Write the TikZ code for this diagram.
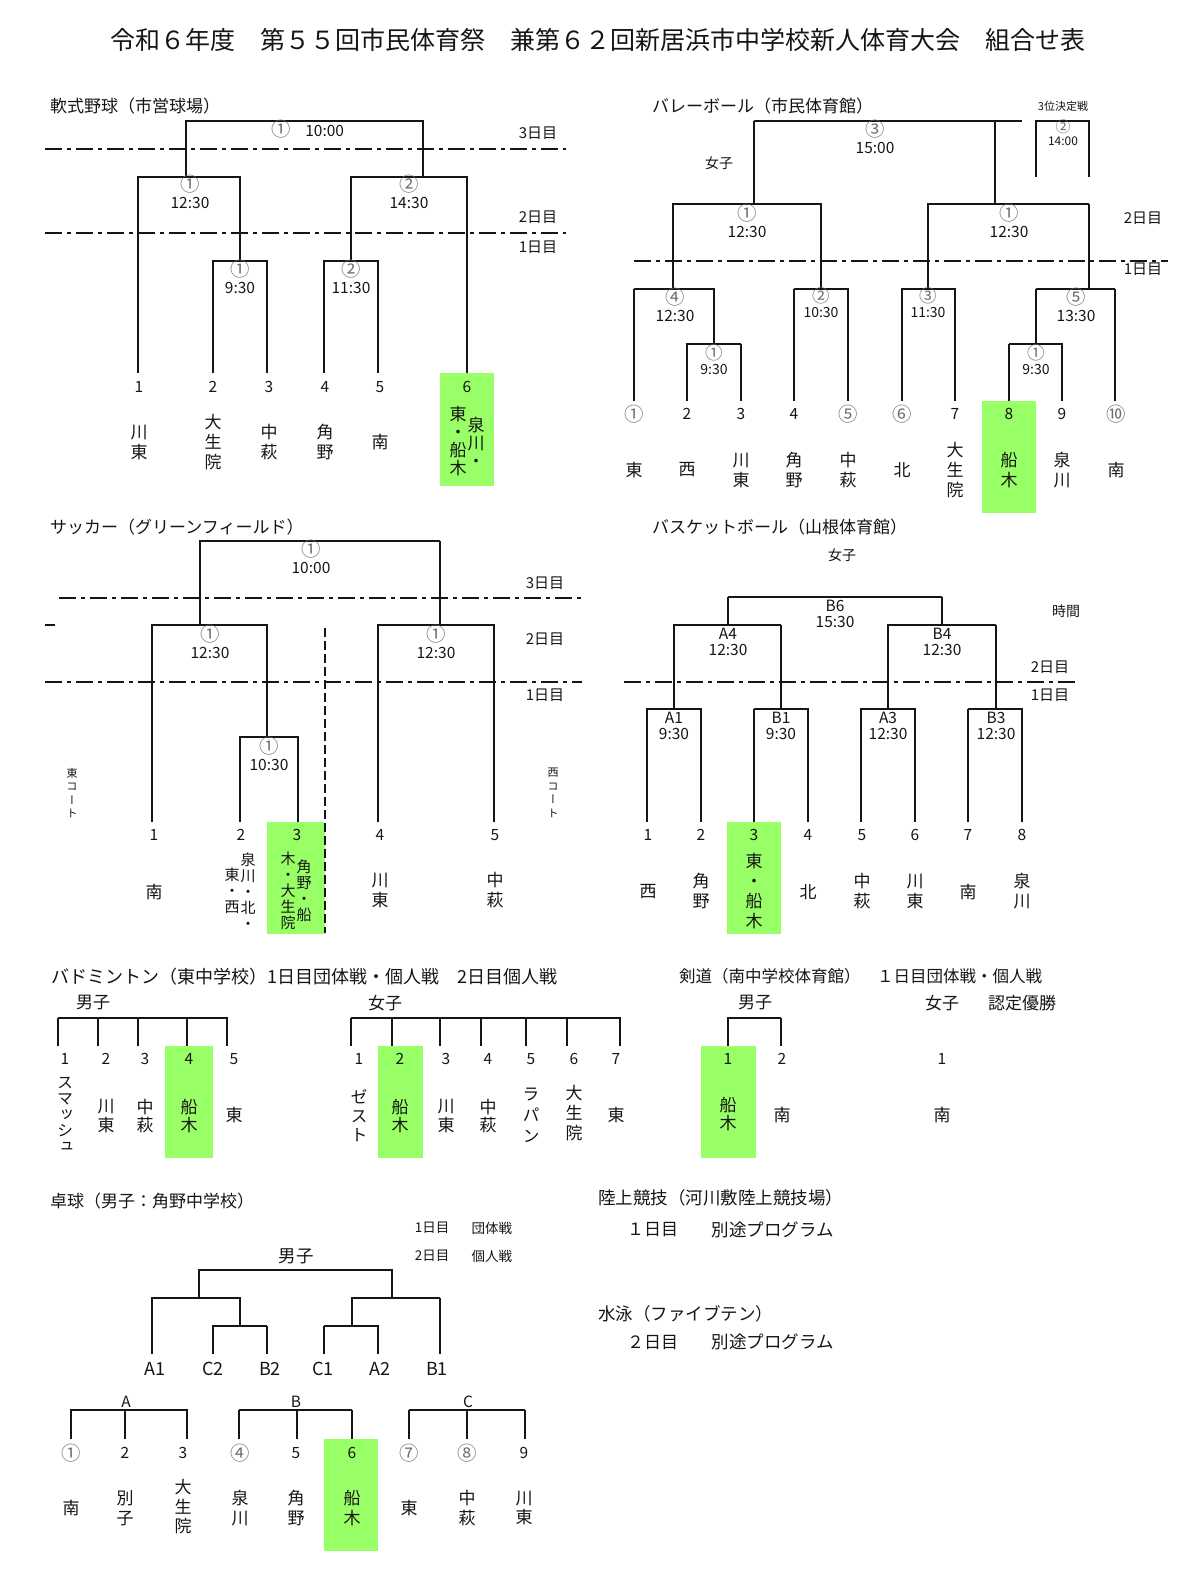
\documentclass[tikz,border=0pt]{standalone}
\usepackage{fontspec}
\setmainfont{Noto Sans CJK JP}
\newfontfamily\tatefont[RawFeature=+vert]{Noto Sans CJK JP}
\usepackage{xcolor}
\usepackage{tikz}
\usetikzlibrary{positioning}
\definecolor{HitGreen}{HTML}{99FF66}
\definecolor{CircGray}{HTML}{6E6E6E}
\definecolor{InkBlack}{HTML}{151515}
\newcommand\circn[1]{{\color{CircGray}\scalebox{1.25}{#1}}}

\begin{document}
\begin{tikzpicture}[x=1pt,y=-1pt]
  \tikzset{ln/.style={InkBlack,line width=1.5pt},
    win/.style={InkBlack,line width=2.8pt},
    daysep/.style={InkBlack,line width=1.7pt,dash pattern=on 17pt off 5pt on 4pt off 5pt},
    hit/.style={fill=HitGreen,draw=none},
    txt/.style={inner sep=0pt,text=InkBlack,font=\fontsize{15}{17}\selectfont},
    head/.style={txt,anchor=west,font=\fontsize{17}{20}\selectfont},
    num/.style={txt,font=\fontsize{15.5}{17}\selectfont},
    day/.style={txt,font=\fontsize{15}{17}\selectfont},
    match/.style={txt,align=center,font=\fontsize{15.5}{16.5}\selectfont},
    smatch/.style={txt,align=center,font=\fontsize{14}{15}\selectfont},
    team/.style={txt,align=center,font=\tatefont\fontsize{17}{20}\selectfont},
    steam/.style={txt,align=center,font=\tatefont\fontsize{15}{16}\selectfont}}
  \useasboundingbox (0,0) rectangle (1200,1578);

  \node[txt,font=\fontsize{25}{30}\selectfont] (maintitle) at (598,40) {令和６年度　第５５回市民体育祭　兼第６２回新居浜市中学校新人体育大会　組合せ表};

  % soft baseball
  \node[head] (bbhead) at (50,106) {軟式野球（市営球場）};
  \draw[daysep] (45,149) -- (566,149);
  \draw[daysep] (45,233) -- (566,233);
  \node[day] (bbday3) at (538,133) {3日目};
  \node[day] (bbday2) at (538,217) {2日目};
  \node[day] (bbday1) at (538,247) {1日目};
  \fill[hit] (440,373) rectangle (494,486);
  \coordinate (bbt1) at (138,373);
  \coordinate (bbt2) at (213,373);
  \coordinate (bbt3) at (267,373);
  \coordinate (bbt4) at (324,373);
  \coordinate (bbt5) at (378,373);
  \coordinate (bbt6) at (467,373);
  \coordinate (bbq1) at (240,261);
  \coordinate (bbq2) at (351,261);
  \coordinate (bbq3) at (186,177);
  \coordinate (bbq4) at (423,177);
  \coordinate (bbq5) at (305,121);
  \draw[ln] (bbt2) |- (bbq1) -| (bbt3);
  \draw[win] (bbq1 -| bbt3) -- (bbt3);
  \draw[ln] (bbt4) |- (bbq2) -| (bbt5);
  \draw[win] (bbt4) -- (bbt4 |- bbq2);
  \draw[ln] (bbt1) |- (bbq3) -| (bbq1);
  \draw[win] (bbq1) -- (bbq1 |- bbq3);
  \draw[ln] (bbq2) |- (bbq4) -| (bbt6);
  \draw[win] (bbq2) -- (bbq2 |- bbq4);
  \draw[ln] (bbq3) |- (bbq5) -| (bbq4);
  \node[match] (bbm5) at (308,129) {\circn{①}\hspace{14pt}10:00};
  \node[match] (bbm3) at (190,192) {\circn{①}\\12:30};
  \node[match] (bbm4) at (409,192) {\circn{②}\\14:30};
  \node[match] (bbm1) at (240,277) {\circn{①}\\9:30};
  \node[match] (bbm2) at (351,277) {\circn{②}\\11:30};
  \node[num] (bbn1) at (139,387) {1};
  \node[num] (bbn2) at (213,387) {2};
  \node[num] (bbn3) at (269,387) {3};
  \node[num] (bbn4) at (325,387) {4};
  \node[num] (bbn5) at (380,387) {5};
  \node[num] (bbn6) at (467,387) {6};
  \node[team] (bbs1) at (139,442) {川\\東};
  \node[team] (bbs2) at (213,442) {大\\生\\院};
  \node[team] (bbs3) at (269,442) {中\\萩};
  \node[team] (bbs4) at (325,442) {角\\野};
  \node[team] (bbs5) at (380,442) {南};
  \node[team,font=\tatefont\fontsize{17}{18}\selectfont] (bbs6a) at (458,441) {東\\・\\船\\木};
  \node[team,font=\tatefont\fontsize{17}{18}\selectfont] (bbs6b) at (476,442) {泉\\川\\・};

  % volleyball
  \node[head] (vbhead) at (652,106) {バレーボール（市民体育館）};
  \node[txt,font=\fontsize{11}{12}\selectfont] (vbthird) at (1063,106) {3位決定戦};
  \node[txt,font=\fontsize{14}{16}\selectfont] (vbgirls) at (719,163) {女子};
  \draw[daysep] (634,261) -- (1168,261);
  \node[day] (vbday2) at (1143,218) {2日目};
  \node[day] (vbday1) at (1143,269) {1日目};
  \fill[hit] (982,401) rectangle (1036,513);
  \coordinate (vbt1) at (634,401);
  \coordinate (vbt2) at (687,401);
  \coordinate (vbt3) at (741,401);
  \coordinate (vbt4) at (794,401);
  \coordinate (vbt5) at (848,401);
  \coordinate (vbt6) at (902,401);
  \coordinate (vbt7) at (955,401);
  \coordinate (vbt8) at (1009,401);
  \coordinate (vbt9) at (1062,401);
  \coordinate (vbt10) at (1115,401);
  \coordinate (vbq1) at (714,344);
  \coordinate (vbq2) at (1036,344);
  \coordinate (vbq3) at (673,289);
  \coordinate (vbq4) at (821,289);
  \coordinate (vbq5) at (928,289);
  \coordinate (vbq6) at (1089,289);
  \coordinate (vbq7) at (754,204);
  \coordinate (vbq8) at (995,204);
  \coordinate (vbq9) at (875,121);
  \coordinate (vbend) at (1022,121);
  \coordinate (vbq10) at (1063,121);
  \coordinate (vb3a) at (1036,177);
  \coordinate (vb3b) at (1089,177);
  \draw[ln] (vbt1) -- (vbt1 |- vbq3);
  \draw[win] (vbt1 |- vbq3) -| (vbq1);
  \draw[win] (vbt2) |- (vbq1) -- (vbq1 -| vbt3);
  \draw[ln] (vbq1 -| vbt3) -- (vbt3);
  \draw[ln] (vbt4) -- (vbt4 |- vbq4);
  \draw[win] (vbt4 |- vbq4) -| (vbt5);
  \draw[win] (vbt6) |- (vbq5);
  \draw[ln] (vbq5) -| (vbt7);
  \draw[ln] (vbt8) -- (vbt8 |- vbq2);
  \draw[win] (vbt8 |- vbq2) -| (vbt9);
  \draw[ln] (vbq2) -- (vbq2 |- vbq6);
  \draw[win] (vbq2 |- vbq6) -- (vbq6 -| vbt10);
  \draw[ln] (vbq6 -| vbt10) -- (vbt10);
  \draw[ln] (vbq3) |- (vbq7) -| (vbq4);
  \draw[ln] (vbq5) |- (vbq8) -- (vbq8 -| vbq6);
  \draw[win] (vbq8 -| vbq6) -- (vbq6);
  \draw[win] (vbq7) -- (vbq7 |- vbq9);
  \draw[win] (vbq8) -- (vbq8 |- vbq9);
  \draw[ln] (vbq7 |- vbq9) -- (vbend);
  \draw[ln] (vb3a) |- (vbq10);
  \draw[win] (vbq10) -| (vb3b);
  \node[match] (vbm9) at (875,137) {\circn{③}\\15:00};
  \node[txt,align=center,font=\fontsize{12}{13}\selectfont] (vbm10) at (1063,133) {\circn{②}\\14:00};
  \node[match] (vbm7) at (747,221) {\circn{①}\\12:30};
  \node[match] (vbm8) at (1009,221) {\circn{①}\\12:30};
  \node[match] (vbm3) at (675,305) {\circn{④}\\12:30};
  \node[smatch] (vbm4) at (821,303) {\circn{②}\\10:30};
  \node[smatch] (vbm5) at (928,303) {\circn{③}\\11:30};
  \node[match] (vbm6) at (1076,305) {\circn{⑤}\\13:30};
  \node[smatch] (vbm1) at (714,360) {\circn{①}\\9:30};
  \node[smatch] (vbm2) at (1036,360) {\circn{①}\\9:30};
  \node[num] (vbn1) at (634,414) {\circn{①}};
  \node[num] (vbn2) at (687,414) {2};
  \node[num] (vbn3) at (741,414) {3};
  \node[num] (vbn4) at (794,414) {4};
  \node[num] (vbn5) at (848,414) {\circn{⑤}};
  \node[num] (vbn6) at (902,414) {\circn{⑥}};
  \node[num] (vbn7) at (955,414) {7};
  \node[num] (vbn8) at (1009,414) {8};
  \node[num] (vbn9) at (1062,414) {9};
  \node[num] (vbn10) at (1116,414) {\circn{⑩}};
  \node[team] (vbs1) at (634,470) {東};
  \node[team] (vbs2) at (687,470) {西};
  \node[team] (vbs3) at (741,470) {川\\東};
  \node[team] (vbs4) at (794,470) {角\\野};
  \node[team] (vbs5) at (848,470) {中\\萩};
  \node[team] (vbs6) at (902,470) {北};
  \node[team] (vbs7) at (955,470) {大\\生\\院};
  \node[team] (vbs8) at (1009,470) {船\\木};
  \node[team] (vbs9) at (1062,470) {泉\\川};
  \node[team] (vbs10) at (1116,470) {南};

  % soccer
  \node[head] (schead) at (50,527) {サッカー（グリーンフィールド）};
  \draw[daysep] (59,598) -- (582,598);
  \draw[daysep] (45,682) -- (582,682);
  \node[day] (scday3) at (545,583) {3日目};
  \node[day] (scday2) at (545,639) {2日目};
  \node[day] (scday1) at (545,695) {1日目};
  \draw[ln] (45,625) -- (55,625);
  \fill[hit] (267,822) rectangle (325,934);
  \draw[ln,dash pattern=on 9pt off 4pt] (325,628) -- (325,933);
  \coordinate (sct1) at (152,822);
  \coordinate (sct2) at (240,822);
  \coordinate (sct3) at (298,822);
  \coordinate (sct4) at (378,822);
  \coordinate (sct5) at (494,822);
  \coordinate (scq1) at (267,737);
  \coordinate (scq2) at (200,625);
  \coordinate (scq3) at (440,625);
  \coordinate (scq4) at (320,541);
  \draw[ln] (sct2) |- (scq1) -| (sct3);
  \draw[win] (sct1) |- (scq2) -| (scq1);
  \draw[win] (sct4) |- (scq3) -| (sct5);
  \draw[win] (scq2) |- (scq4) -- (scq4 -| scq3);
  \draw[ln] (scq4 -| scq3) -- (scq3);
  \node[match] (scm4) at (311,557) {\circn{①}\\10:00};
  \node[match] (scm2) at (210,642) {\circn{①}\\12:30};
  \node[match] (scm3) at (436,642) {\circn{①}\\12:30};
  \node[match] (scm1) at (269,754) {\circn{①}\\10:30};
  \node[txt,align=center,font=\tatefont\fontsize{11}{13.5}\selectfont] (sceast) at (72,793) {東\\コ\\ー\\ト};
  \node[txt,align=center,font=\tatefont\fontsize{11}{13.5}\selectfont] (scwest) at (553,793) {西\\コ\\ー\\ト};
  \node[num] (scn1) at (154,835) {1};
  \node[num] (scn2) at (241,835) {2};
  \node[num] (scn3) at (297,835) {3};
  \node[num] (scn4) at (380,835) {4};
  \node[num] (scn5) at (495,835) {5};
  \node[team] (scs1) at (154,892) {南};
  \node[steam] (scs2a) at (232,891) {東\\・\\西};
  \node[steam] (scs2b) at (248,891) {泉\\川\\・\\北\\・};
  \node[steam] (scs3a) at (288,891) {木\\・\\大\\生\\院};
  \node[steam] (scs3b) at (304,891) {角\\野\\・\\船};
  \node[team] (scs4) at (380,890) {川\\東};
  \node[team] (scs5) at (495,890) {中\\萩};

  % basketball
  \node[head] (bkhead) at (652,527) {バスケットボール（山根体育館）};
  \node[txt,font=\fontsize{14}{16}\selectfont] (bkgirls) at (842,555) {女子};
  \node[txt,font=\fontsize{14}{16}\selectfont] (bktime) at (1066,611) {時間};
  \draw[daysep] (624,682) -- (1077,682);
  \node[day] (bkday2) at (1050,667) {2日目};
  \node[day] (bkday1) at (1050,695) {1日目};
  \fill[hit] (727,822) rectangle (781,934);
  \coordinate (bkt1) at (647,822);
  \coordinate (bkt2) at (701,822);
  \coordinate (bkt3) at (754,822);
  \coordinate (bkt4) at (808,822);
  \coordinate (bkt5) at (861,822);
  \coordinate (bkt6) at (915,822);
  \coordinate (bkt7) at (968,822);
  \coordinate (bkt8) at (1022,822);
  \coordinate (bkq1) at (674,709);
  \coordinate (bkq2) at (781,709);
  \coordinate (bkq3) at (888,709);
  \coordinate (bkq4) at (996,709);
  \coordinate (bkq5) at (728,625);
  \coordinate (bkq6) at (942,625);
  \coordinate (bkq7) at (835,597);
  \draw[ln] (bkt1) |- (bkq1) -| (bkt2);
  \draw[win] (bkt3) -- (bkt3 |- bkq2);
  \draw[ln] (bkt3 |- bkq2) -| (bkt4);
  \draw[ln] (bkt5) |- (bkq3) -| (bkt6);
  \draw[win] (bkt7) -- (bkt7 |- bkq4);
  \draw[ln] (bkt7 |- bkq4) -| (bkt8);
  \draw[ln] (bkq1) |- (bkq5) -- (bkq5 -| bkq2);
  \draw[win] (bkq2) -- (bkq2 |- bkq5);
  \draw[ln] (bkq3) |- (bkq6) -- (bkq6 -| bkq4);
  \draw[win] (bkq4) -- (bkq4 |- bkq6);
  \draw[ln] (bkq5) -- (bkq5 |- bkq7);
  \draw[ln] (bkq6) -- (bkq6 |- bkq7);
  \draw[win] (bkq5 |- bkq7) -- (bkq6 |- bkq7);
  \node[match] (bkm7) at (835,614) {B6\\15:30};
  \node[match] (bkm5) at (728,642) {A4\\12:30};
  \node[match] (bkm6) at (942,642) {B4\\12:30};
  \node[match] (bkm1) at (674,726) {A1\\9:30};
  \node[match] (bkm2) at (781,726) {B1\\9:30};
  \node[match] (bkm3) at (888,726) {A3\\12:30};
  \node[match] (bkm4) at (996,726) {B3\\12:30};
  \node[num] (bkn1) at (648,835) {1};
  \node[num] (bkn2) at (701,835) {2};
  \node[num] (bkn3) at (754,835) {3};
  \node[num] (bkn4) at (808,835) {4};
  \node[num] (bkn5) at (862,835) {5};
  \node[num] (bkn6) at (915,835) {6};
  \node[num] (bkn7) at (968,835) {7};
  \node[num] (bkn8) at (1022,835) {8};
  \node[team] (bks1) at (648,892) {西};
  \node[team] (bks2) at (701,891) {角\\野};
  \node[team] (bks3) at (754,891) {東\\・\\船\\木};
  \node[team] (bks4) at (808,892) {北};
  \node[team] (bks5) at (862,891) {中\\萩};
  \node[team] (bks6) at (915,891) {川\\東};
  \node[team] (bks7) at (968,892) {南};
  \node[team] (bks8) at (1022,891) {泉\\川};

  % badminton
  \node[head,font=\fontsize{18}{20}\selectfont] (bdhead) at (51,977) {バドミントン（東中学校）1日目団体戦・個人戦　2日目個人戦};
  \node[txt,font=\fontsize{17}{20}\selectfont] (bdboys) at (93,1003) {男子};
  \node[txt,font=\fontsize{17}{20}\selectfont] (bdgirls) at (385,1003) {女子};
  \fill[hit] (165,1046) rectangle (213,1158);
  \fill[hit] (378,1046) rectangle (423,1158);
  \coordinate (bmt1) at (58,1046);
  \coordinate (bmt2) at (98,1046);
  \coordinate (bmt3) at (138,1046);
  \coordinate (bmt4) at (187,1046);
  \coordinate (bmt5) at (227,1046);
  \coordinate (bmq) at (142,1018);
  \draw[win] (bmt1) -- (bmt1 |- bmq);
  \draw[ln,line width=2pt] (bmt1 |- bmq) -| (bmt5);
  \draw[ln] (bmt2) -- (bmt2 |- bmq);
  \draw[ln] (bmt3) -- (bmt3 |- bmq);
  \draw[ln] (bmt4) -- (bmt4 |- bmq);
  \coordinate (bwt1) at (351,1046);
  \coordinate (bwt2) at (392,1046);
  \coordinate (bwt3) at (440,1046);
  \coordinate (bwt4) at (481,1046);
  \coordinate (bwt5) at (526,1046);
  \coordinate (bwt6) at (567,1046);
  \coordinate (bwt7) at (620,1046);
  \coordinate (bwq) at (485,1018);
  \draw[win] (bwt1) -- (bwt1 |- bwq);
  \draw[ln,line width=2pt] (bwt1 |- bwq) -| (bwt7);
  \draw[ln] (bwt2) -- (bwt2 |- bwq);
  \draw[ln] (bwt3) -- (bwt3 |- bwq);
  \draw[ln] (bwt4) -- (bwt4 |- bwq);
  \draw[ln] (bwt5) -- (bwt5 |- bwq);
  \draw[ln] (bwt6) -- (bwt6 |- bwq);
  \node[num] (bmn1) at (65,1059) {1};
  \node[num] (bmn2) at (106,1059) {2};
  \node[num] (bmn3) at (145,1059) {3};
  \node[num] (bmn4) at (189,1059) {4};
  \node[num] (bmn5) at (234,1059) {5};
  \node[team,font=\tatefont\fontsize{16}{16}\selectfont] (bms1) at (65,1115) {ス\\マ\\ッ\\シ\\ュ};
  \node[team,font=\tatefont\fontsize{17}{18.5}\selectfont] (bms2) at (106,1116) {川\\東};
  \node[team,font=\tatefont\fontsize{17}{18.5}\selectfont] (bms3) at (145,1116) {中\\萩};
  \node[team,font=\tatefont\fontsize{17}{18.5}\selectfont] (bms4) at (189,1116) {船\\木};
  \node[team] (bms5) at (234,1115) {東};
  \node[num] (bwn1) at (359,1059) {1};
  \node[num] (bwn2) at (400,1059) {2};
  \node[num] (bwn3) at (446,1059) {3};
  \node[num] (bwn4) at (488,1059) {4};
  \node[num] (bwn5) at (531,1059) {5};
  \node[num] (bwn6) at (574,1059) {6};
  \node[num] (bwn7) at (616,1059) {7};
  \node[team,font=\tatefont\fontsize{17}{19}\selectfont] (bws1) at (359,1116) {ゼ\\ス\\ト};
  \node[team,font=\tatefont\fontsize{17}{18.5}\selectfont] (bws2) at (400,1116) {船\\木};
  \node[team,font=\tatefont\fontsize{17}{18.5}\selectfont] (bws3) at (446,1116) {川\\東};
  \node[team,font=\tatefont\fontsize{17}{18.5}\selectfont] (bws4) at (488,1116) {中\\萩};
  \node[team,font=\tatefont\fontsize{17}{21}\selectfont] (bws5) at (531,1115) {ラ\\パ\\ン};
  \node[team,font=\tatefont\fontsize{17}{20}\selectfont] (bws6) at (574,1113) {大\\生\\院};
  \node[team] (bws7) at (616,1115) {東};

  % kendo
  \node[head,font=\fontsize{16.5}{20}\selectfont] (kdhead) at (679,976) {剣道（南中学校体育館）　１日目団体戦・個人戦};
  \node[txt,font=\fontsize{17}{20}\selectfont] (kdboys) at (755,1003) {男子};
  \node[txt,font=\fontsize{17}{20}\selectfont] (kdgirls) at (942,1003) {女子};
  \node[txt,font=\fontsize{17}{20}\selectfont] (kdwin) at (1022,1003) {認定優勝};
  \fill[hit] (701,1046) rectangle (756,1158);
  \coordinate (kdt1) at (728,1046);
  \coordinate (kdt2) at (781,1046);
  \coordinate (kdq) at (755,1018);
  \draw[ln] (kdt1) |- (kdq) -- (kdq -| kdt2);
  \draw[win] (kdq -| kdt2) -- (kdt2);
  \node[num] (kdn1) at (728,1059) {1};
  \node[num] (kdn2) at (782,1059) {2};
  \node[num] (kdn3) at (942,1059) {1};
  \node[team,font=\tatefont\fontsize{17}{18.5}\selectfont] (kds1) at (728,1114) {船\\木};
  \node[team] (kds2) at (782,1115) {南};
  \node[team] (kds3) at (942,1115) {南};

  % table tennis
  \node[head] (tthead) at (50,1201) {卓球（男子：角野中学校）};
  \node[txt,font=\fontsize{13.5}{15}\selectfont] (ttday1) at (432,1228) {1日目};
  \node[txt,font=\fontsize{13.5}{15}\selectfont,right=22pt of ttday1] (ttteam) {団体戦};
  \node[txt,font=\fontsize{13.5}{15}\selectfont] (ttday2) at (432,1256) {2日目};
  \node[txt,font=\fontsize{13.5}{15}\selectfont,right=22pt of ttday2] (ttsingle) {個人戦};
  \node[txt,font=\fontsize{17.5}{20}\selectfont] (ttboys) at (296,1256) {男子};
  \coordinate (ttk1) at (152,1354);
  \coordinate (ttk2) at (213,1354);
  \coordinate (ttk3) at (267,1354);
  \coordinate (ttk4) at (324,1354);
  \coordinate (ttk5) at (378,1354);
  \coordinate (ttk6) at (440,1354);
  \coordinate (ttq1) at (240,1326);
  \coordinate (ttq2) at (352,1326);
  \coordinate (ttq3) at (199,1298);
  \coordinate (ttq4) at (392,1298);
  \coordinate (ttq5) at (296,1270);
  \draw[ln] (ttk2) |- (ttq1) -- (ttq1 -| ttk3);
  \draw[win] (ttq1 -| ttk3) -- (ttk3);
  \draw[win] (ttk4) -- (ttk4 |- ttq2);
  \draw[ln] (ttk4 |- ttq2) -| (ttk5);
  \draw[win] (ttk1) |- (ttq3) -| (ttq1);
  \draw[win] (ttq2) |- (ttq4) -- (ttq4 -| ttk6);
  \draw[ln,line width=1.9pt] (ttq4 -| ttk6) -- (ttk6);
  \draw[ln] (ttq3) |- (ttq5) -| (ttq4);
  \node[txt,font=\fontsize{18}{20}\selectfont] (tta1) at (155,1369) {A1};
  \node[txt,font=\fontsize{18}{20}\selectfont] (ttc2) at (213,1369) {C2};
  \node[txt,font=\fontsize{18}{20}\selectfont] (ttb2) at (270,1369) {B2};
  \node[txt,font=\fontsize{18}{20}\selectfont] (ttc1) at (323,1369) {C1};
  \node[txt,font=\fontsize{18}{20}\selectfont] (tta2) at (380,1369) {A2};
  \node[txt,font=\fontsize{18}{20}\selectfont] (ttb1) at (437,1369) {B1};
  \fill[hit] (324,1439) rectangle (378,1551);
  \coordinate (ttg1) at (71,1439);
  \coordinate (ttg2) at (125,1439);
  \coordinate (ttg3) at (187,1439);
  \coordinate (ttg4) at (239,1439);
  \coordinate (ttg5) at (297,1439);
  \coordinate (ttg6) at (352,1439);
  \coordinate (ttg7) at (409,1439);
  \coordinate (ttg8) at (467,1439);
  \coordinate (ttg9) at (525,1439);
  \coordinate (ttqa) at (126,1410);
  \coordinate (ttqb) at (296,1410);
  \coordinate (ttqc) at (467,1410);
  \draw[ln] (ttg1) |- (ttqa) -| (ttg3);
  \draw[ln] (ttg2) -- (ttg2 |- ttqa);
  \draw[ln] (ttg4 |- ttqb) -- (ttg6 |- ttqb);
  \draw[win] (ttg4) -- (ttg4 |- ttqb);
  \draw[win] (ttg6) -- (ttg6 |- ttqb);
  \draw[ln] (ttg5) -- (ttg5 |- ttqb);
  \draw[ln] (ttg7 |- ttqc) -- (ttg9 |- ttqc);
  \draw[win] (ttg7) -- (ttg7 |- ttqc);
  \draw[ln] (ttg8) -- (ttg8 |- ttqc);
  \draw[ln] (ttg9) -- (ttg9 |- ttqc);
  \node[num] (ttla) at (126,1402) {A};
  \node[num] (ttlb) at (296,1402) {B};
  \node[num] (ttlc) at (468,1402) {C};
  \node[num] (ttn1) at (71,1453) {\circn{①}};
  \node[num] (ttn2) at (125,1453) {2};
  \node[num] (ttn3) at (183,1453) {3};
  \node[num] (ttn4) at (240,1453) {\circn{④}};
  \node[num] (ttn5) at (296,1453) {5};
  \node[num] (ttn6) at (352,1453) {6};
  \node[num] (ttn7) at (409,1453) {\circn{⑦}};
  \node[num] (ttn8) at (467,1453) {\circn{⑧}};
  \node[num] (ttn9) at (524,1453) {9};
  \node[team,font=\tatefont\fontsize{17}{19.5}\selectfont] (tts1) at (71,1508) {南};
  \node[team,font=\tatefont\fontsize{17}{19.5}\selectfont] (tts2) at (125,1508) {別\\子};
  \node[team,font=\tatefont\fontsize{17}{19.5}\selectfont] (tts3) at (183,1507) {大\\生\\院};
  \node[team,font=\tatefont\fontsize{17}{19.5}\selectfont] (tts4) at (240,1508) {泉\\川};
  \node[team,font=\tatefont\fontsize{17}{19.5}\selectfont] (tts5) at (296,1508) {角\\野};
  \node[team,font=\tatefont\fontsize{17}{19.5}\selectfont] (tts6) at (352,1508) {船\\木};
  \node[team,font=\tatefont\fontsize{17}{19.5}\selectfont] (tts7) at (409,1508) {東};
  \node[team,font=\tatefont\fontsize{17}{19.5}\selectfont] (tts8) at (467,1508) {中\\萩};
  \node[team,font=\tatefont\fontsize{17}{19.5}\selectfont] (tts9) at (524,1508) {川\\東};

  % athletics and swimming
  \node[head,font=\fontsize{17.5}{20}\selectfont] (athead) at (598,1198) {陸上競技（河川敷陸上競技場）};
  \node[head] (atday) at (627,1230) {１日目};
  \node[head,font=\fontsize{17.5}{20}\selectfont,right=33pt of atday] (atprog) {別途プログラム};
  \node[head,font=\fontsize{17.5}{20}\selectfont] (swhead) at (598,1314) {水泳（ファイブテン）};
  \node[head] (swday) at (627,1342) {２日目};
  \node[head,font=\fontsize{17.5}{20}\selectfont,right=33pt of swday] (swprog) {別途プログラム};
\end{tikzpicture}
\end{document}
